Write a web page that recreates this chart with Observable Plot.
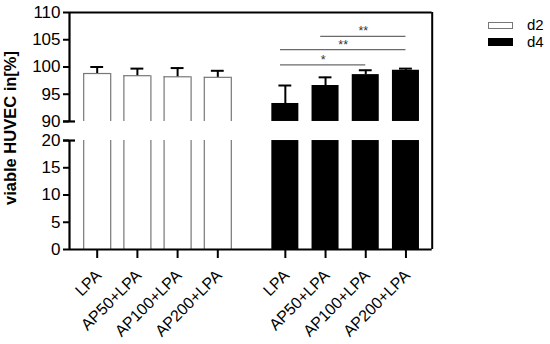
<!DOCTYPE html>
<html><head><meta charset="utf-8">
<script src="https://cdn.jsdelivr.net/npm/d3@7"></script>
<script src="https://cdn.jsdelivr.net/npm/@observablehq/plot@0.6"></script>
<style>
body{margin:0;background:#fff;}
#wrap{position:relative;width:550px;height:344px;font-family:"Liberation Sans",Arial,sans-serif;}
#legend{position:absolute;left:488px;top:17px;font-size:15px;line-height:16.5px;color:#000;}
#legend .row{display:flex;align-items:center;height:16.5px;}
#legend .sw{width:25px;height:7.5px;box-sizing:border-box;margin-right:14px;}
</style></head><body>
<div id="wrap"><div id="chart"></div><div id="legend"></div></div>
<script>
// ---- data ----
const treatments = ["LPA", "AP50+LPA", "AP100+LPA", "AP200+LPA"];
const days = ["d2", "d4"];
const meanD2 = [98.8, 98.4, 98.2, 98.1];
const sdD2 = [1.2, 1.3, 1.6, 1.2];
const meanD4 = [93.3, 96.6, 98.6, 99.4];
const sdD4 = [3.3, 1.5, 0.8, 0.3];
const yTicksLow = [0, 5, 10, 15, 20];
const yTicksHigh = [90, 95, 100, 105, 110];
const sigFrom = ["LPA", "LPA", "AP50+LPA"];
const sigTo = ["AP100+LPA", "AP200+LPA", "AP200+LPA"];
const sigLabel = ["*", "**", "**"];
const sigLevel = [100.4, 103.2, 105.6];
const yLabel = "viable HUVEC in[%]";

// ---- layout helpers ----
const lowTop = 20, highBottom = 90, highTop = 110, gapUnits = 3.5;
const yd = v => v <= lowTop ? v : v - highBottom + lowTop + gapUnits;
const groupOffset = 4.68, hw = 0.336, capHalf = 0.16;
const xMin = -0.689, xMax = 8.333;
const pos = (g, i) => i + g * groupOffset;

const bars = [];
days.forEach((day, g) => {
  const m = g === 0 ? meanD2 : meanD4, s = g === 0 ? sdD2 : sdD4;
  treatments.forEach((t, i) => bars.push({day, t, x: pos(g, i), mean: m[i], sd: s[i]}));
});
const segs = [];
bars.forEach(b => {
  segs.push({...b, y1: 0, y2: yd(lowTop)});
  segs.push({...b, y1: yd(highBottom), y2: yd(b.mean)});
});
const d2segs = segs.filter(d => d.day === "d2");
const d4segs = segs.filter(d => d.day === "d4");
const d2edges = d2segs.flatMap(d => [{...d, xe: d.x - hw}, {...d, xe: d.x + hw}]);
const sig = sigLabel.map((lab, k) => ({
  x1: pos(1, treatments.indexOf(sigFrom[k])) - 0.12,
  x2: pos(1, treatments.indexOf(sigTo[k])),
  y: yd(sigLevel[k]), lab
}));
const yTicks = [...yTicksLow, ...yTicksHigh];
const tickFmt = d => String(yTicks.find(v => Math.abs(yd(v) - d) < 1e-6));

const F = '"Liberation Sans", Arial, sans-serif';
const plot = Plot.plot({
  width: 550, height: 344,
  marginLeft: 69, marginRight: 118.3, marginTop: 12, marginBottom: 95,
  style: {fontFamily: F, background: "#fff", overflow: "visible"},
  x: {type: "linear", domain: [xMin, xMax], axis: null},
  y: {type: "linear", domain: [0, yd(highTop)], axis: null},
  marks: [
    // bars
    Plot.rectY(d4segs, {x1: d => d.x - hw, x2: d => d.x + hw, y1: "y1", y2: "y2", fill: "#000"}),
    Plot.ruleX(d2edges, {x: "xe", y1: "y1", y2: "y2", stroke: "#777", strokeWidth: 1.2}),
    Plot.ruleY(bars.filter(b => b.day === "d2"), {y: d => yd(d.mean), x1: d => d.x - hw, x2: d => d.x + hw, stroke: "#777", strokeWidth: 1.2}),
    // error bars
    Plot.ruleX(bars, {x: "x", y1: d => yd(d.mean), y2: d => yd(d.mean + d.sd), stroke: "#000", strokeWidth: 2}),
    Plot.ruleY(bars, {y: d => yd(d.mean + d.sd), x1: d => d.x - capHalf, x2: d => d.x + capHalf, stroke: "#000", strokeWidth: 2}),
    // significance
    Plot.ruleY(sig, {y: "y", x1: "x1", x2: "x2", stroke: "#6a6a6a", strokeWidth: 1.2}),
    Plot.text(sig, {x: d => (d.x1 + d.x2) / 2, y: "y", text: "lab", dy: -5, fontSize: 12.5, fill: "#333", lineAnchor: "middle"}),
    // frame
    Plot.ruleY([yd(highTop)], {x1: xMin, x2: xMax, stroke: "#000", strokeWidth: 2}),
    Plot.ruleY([0], {x1: xMin, x2: xMax, stroke: "#000", strokeWidth: 2}),
    Plot.ruleX([xMax], {y1: 0, y2: yd(highTop), stroke: "#000", strokeWidth: 2}),
    // broken y axis
    Plot.ruleX([[0, yd(lowTop)], [yd(highBottom), yd(highTop)]], {x: () => xMin, y1: d => d[0], y2: d => d[1], stroke: "#000", strokeWidth: 2.2}),
    Plot.ruleY([yd(lowTop), yd(highBottom)], {x1: xMin - 0.15, x2: xMin + 0.15, stroke: "#000", strokeWidth: 2.2}),
    Plot.axisY(yTicks.map(yd), {anchor: "left", tickSize: 6, tickPadding: 3, strokeWidth: 2, tickFormat: tickFmt, fontSize: 17, fill: "#000"}),
    // x axis ticks + labels
    Plot.axisX(bars.map(b => b.x), {anchor: "bottom", tickSize: 9, strokeWidth: 2, tickFormat: () => "", label: null}),
    Plot.text(bars, {x: "x", y: 0, text: "t", rotate: -45, textAnchor: "end", lineAnchor: "bottom", dx: 5, dy: 27, fontSize: 16, fill: "#000"}),
    // y label
    Plot.text([yLabel], {frameAnchor: "left", rotate: -90, dx: -59, dy: -3, fontSize: 16.5, fontWeight: "bold", fill: "#000", textAnchor: "middle"})
  ]
});
document.getElementById("chart").append(plot);

// legend
const lg = document.getElementById("legend");
days.forEach((day, g) => {
  const row = document.createElement("div"); row.className = "row";
  const sw = document.createElement("span"); sw.className = "sw";
  sw.style.background = g === 0 ? "#fff" : "#000";
  sw.style.border = g === 0 ? "1.5px solid #777" : "1.5px solid #000";
  const tx = document.createElement("span"); tx.textContent = day;
  row.append(sw, tx); lg.append(row);
});
</script>
</body></html>
